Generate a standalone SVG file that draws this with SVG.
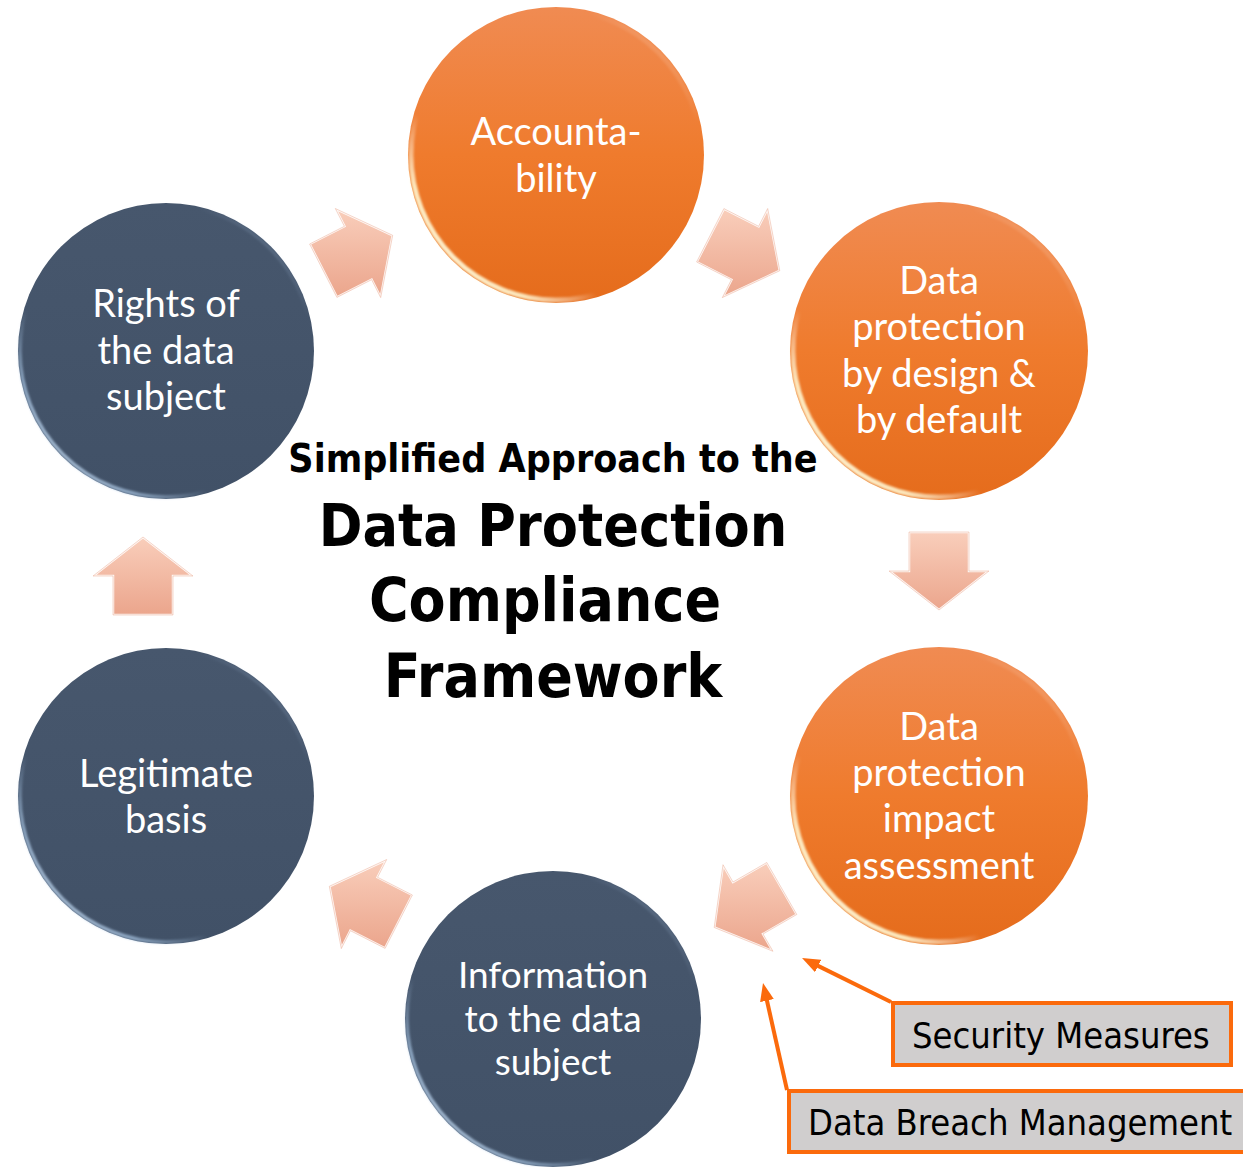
<svg xmlns="http://www.w3.org/2000/svg" width="1243" height="1167" viewBox="0 0 1243 1167">
  <defs>
    <style>
      .node-text { font-family: Lato, "Open Sans", "Noto Sans", sans-serif; font-size: 38px; fill: #ffffff; text-anchor: middle; }
      .title { font-family: "DejaVu Sans Condensed", "DejaVu Sans", sans-serif; font-stretch: condensed; font-weight: bold; fill: #000000; text-anchor: middle; }
      .label-box { fill: #d0cece; stroke: #fb6a0c; stroke-width: 4; }
      .label-text { font-family: "DejaVu Sans Condensed", "DejaVu Sans", sans-serif; font-stretch: condensed; font-size: 36px; fill: #000000; }
      .flow { fill: url(#arrowFill); stroke: #ffffff; stroke-opacity: 0.85; stroke-width: 2.5; stroke-linejoin: miter; }
      .flow-edge { fill: none; stroke: #e59a80; stroke-opacity: 0.5; stroke-width: 0.8; }
      .pointer { fill: none; stroke: #fb6a0c; stroke-width: 4; marker-end: url(#head); }
    </style>
    <linearGradient id="orangeFill" x1="0" y1="0" x2="0" y2="1">
      <stop offset="0" stop-color="#f08b52"/>
      <stop offset="0.5" stop-color="#ef7b2d"/>
      <stop offset="1" stop-color="#e56c1c"/>
    </linearGradient>
    <linearGradient id="slateFill" x1="0" y1="0" x2="0" y2="1">
      <stop offset="0" stop-color="#47576d"/>
      <stop offset="1" stop-color="#415167"/>
    </linearGradient>
    <linearGradient id="rimWarm" x1="0" y1="1" x2="1" y2="0">
      <stop offset="0" stop-color="#fffbe6" stop-opacity="1"/>
      <stop offset="0.2" stop-color="#fff4cc" stop-opacity="0.9"/>
      <stop offset="0.33" stop-color="#ffffff" stop-opacity="0"/>
      <stop offset="0.8" stop-color="#ffffff" stop-opacity="0"/>
      <stop offset="1" stop-color="#ffe0c0" stop-opacity="0.5"/>
    </linearGradient>
    <linearGradient id="rimCool" x1="0" y1="1" x2="1" y2="0">
      <stop offset="0" stop-color="#e4eef9" stop-opacity="1"/>
      <stop offset="0.2" stop-color="#a9c6e4" stop-opacity="0.7"/>
      <stop offset="0.33" stop-color="#a9c6e4" stop-opacity="0"/>
      <stop offset="0.8" stop-color="#a9c6e4" stop-opacity="0"/>
      <stop offset="1" stop-color="#b8d2ee" stop-opacity="0.6"/>
    </linearGradient>
    <linearGradient id="arrowFill" x1="0" y1="0" x2="0" y2="1">
      <stop offset="0" stop-color="#f9cebb"/>
      <stop offset="1" stop-color="#eba58c"/>
    </linearGradient>
    <filter id="soft" x="-10%" y="-10%" width="120%" height="120%">
      <feGaussianBlur stdDeviation="1.2"/>
    </filter>
    <marker id="head" viewBox="0 0 18 14" markerWidth="18" markerHeight="14" refX="8" refY="7" orient="auto" markerUnits="userSpaceOnUse">
      <path d="M0,0 L18,7 L0,14 Z" fill="#fb6a0c"/>
    </marker>
  </defs>

  <rect width="1243" height="1167" fill="#ffffff"/>

  <!-- cycle arrows between the steps -->
  <g id="connectors">
    <g>
      <polygon class="flow" points="309.6,244 344.4,226.3 335.3,208.5 392.7,235.3 380.7,297.6 371.6,279.7 336.9,297.4"/>
      <polygon class="flow-edge" points="309.6,244 344.4,226.3 335.3,208.5 392.7,235.3 380.7,297.6 371.6,279.7 336.9,297.4"/>
    </g>
    <g>
      <polygon class="flow" points="723.9,208.6 758.6,226.3 767.7,208.5 779.8,270.7 722.3,297.6 731.4,279.7 696.6,262"/>
      <polygon class="flow-edge" points="723.9,208.6 758.6,226.3 767.7,208.5 779.8,270.7 722.3,297.6 731.4,279.7 696.6,262"/>
    </g>
    <g>
      <polygon class="flow" points="969,532 969,571 989,571 939,610 889,571 909,571 909,532"/>
      <polygon class="flow-edge" points="969,532 969,571 989,571 939,610 889,571 909,571 909,532"/>
    </g>
    <g>
      <polygon class="flow" points="796.8,914.5 763,934 773,951.3 714.2,927.5 723,864.7 733,882 766.8,862.5"/>
      <polygon class="flow-edge" points="796.8,914.5 763,934 773,951.3 714.2,927.5 723,864.7 733,882 766.8,862.5"/>
    </g>
    <g>
      <polygon class="flow" points="385.1,948.4 350.4,930.7 341.3,948.6 329.3,886.3 386.7,859.5 377.6,877.3 412.4,895"/>
      <polygon class="flow-edge" points="385.1,948.4 350.4,930.7 341.3,948.6 329.3,886.3 386.7,859.5 377.6,877.3 412.4,895"/>
    </g>
    <g>
      <polygon class="flow" points="113,615 113,576 93,576 143,537 193,576 173,576 173,615"/>
      <polygon class="flow-edge" points="113,615 113,576 93,576 143,537 193,576 173,576 173,615"/>
    </g>
    <!-- pointers from the side notes -->
    <path class="pointer" d="M891,1002 L811,962.4"/>
    <path class="pointer" d="M787,1090 L765.2,992.8"/>
  </g>

  <g id="accountability">
    <circle cx="556" cy="155" r="148" fill="url(#orangeFill)"/>
    <circle cx="556" cy="155" r="145" fill="none" stroke="url(#rimWarm)" stroke-width="5" filter="url(#soft)"/>
    <text class="node-text" x="556" y="145">Accounta-</text>
    <text class="node-text" x="556" y="192">bility</text>
  </g>

  <g id="by-design">
    <circle cx="939" cy="351" r="149" fill="url(#orangeFill)"/>
    <circle cx="939" cy="351" r="146" fill="none" stroke="url(#rimWarm)" stroke-width="5" filter="url(#soft)"/>
    <text class="node-text" x="939" y="294">Data</text>
    <text class="node-text" x="939" y="340">protection</text>
    <text class="node-text" x="939" y="387">by design &amp;</text>
    <text class="node-text" x="939" y="433">by default</text>
  </g>

  <g id="impact-assessment">
    <circle cx="939" cy="796" r="149" fill="url(#orangeFill)"/>
    <circle cx="939" cy="796" r="146" fill="none" stroke="url(#rimWarm)" stroke-width="5" filter="url(#soft)"/>
    <text class="node-text" x="939" y="740">Data</text>
    <text class="node-text" x="939" y="786">protection</text>
    <text class="node-text" x="939" y="832">impact</text>
    <text class="node-text" x="939" y="879">assessment</text>
  </g>

  <g id="information">
    <circle cx="553" cy="1019" r="148" fill="url(#slateFill)"/>
    <circle cx="553" cy="1019" r="146" fill="none" stroke="url(#rimCool)" stroke-width="3.5" filter="url(#soft)"/>
    <text class="node-text" x="553" y="988" style="font-size:37px">Information</text>
    <text class="node-text" x="553" y="1032" style="font-size:37px">to the data</text>
    <text class="node-text" x="553" y="1075" style="font-size:37px">subject</text>
  </g>

  <g id="legitimate-basis">
    <circle cx="166" cy="796" r="148" fill="url(#slateFill)"/>
    <circle cx="166" cy="796" r="146" fill="none" stroke="url(#rimCool)" stroke-width="3.5" filter="url(#soft)"/>
    <text class="node-text" x="166" y="787">Legitimate</text>
    <text class="node-text" x="166" y="833">basis</text>
  </g>

  <g id="rights">
    <circle cx="166" cy="351" r="148" fill="url(#slateFill)"/>
    <circle cx="166" cy="351" r="146" fill="none" stroke="url(#rimCool)" stroke-width="3.5" filter="url(#soft)"/>
    <text class="node-text" x="166" y="317">Rights of</text>
    <text class="node-text" x="166" y="364">the data</text>
    <text class="node-text" x="166" y="410">subject</text>
  </g>

  <g id="title">
    <text class="title" x="553" y="472" style="font-size:39px">Simplified Approach to the</text>
    <text class="title" x="553" y="546" style="font-size:58.6px">Data Protection</text>
    <text class="title" x="545" y="621" style="font-size:60px">Compliance</text>
    <text class="title" x="553" y="697" style="font-size:60px">Framework</text>
  </g>

  <g id="security-measures">
    <rect class="label-box" x="893" y="1003" width="338" height="62"/>
    <text class="label-text" x="912" y="1048">Security Measures</text>
  </g>

  <g id="data-breach-management">
    <rect class="label-box" x="789" y="1091" width="470" height="61"/>
    <text class="label-text" x="808" y="1135">Data Breach Management</text>
  </g>
</svg>
